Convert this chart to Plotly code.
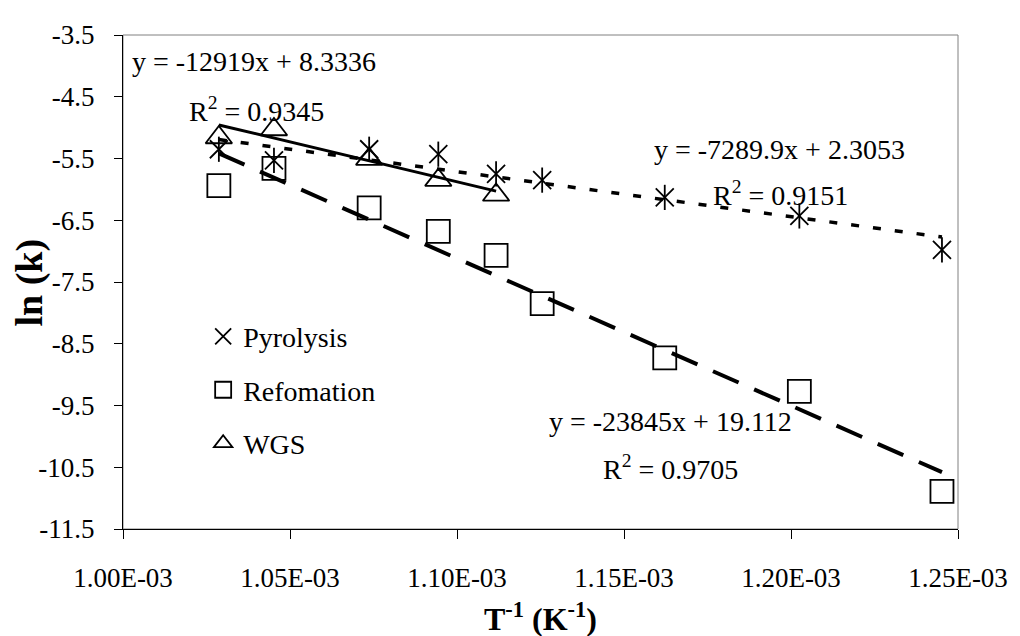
import plotly.graph_objects as go

# ---- data ----
inv_T = [1.0287e-3, 1.0452e-3, 1.0737e-3, 1.0944e-3, 1.1117e-3,
         1.1255e-3, 1.1622e-3, 1.2025e-3, 1.2452e-3]
pyrolysis = [-5.35, -5.53, -5.35, -5.43, -5.75, -5.85, -6.13, -6.43, -6.98]
refomation = [-5.94, -5.66, -6.30, -6.68, -7.07, -7.85, -8.73, -9.27, -10.89]
wgs_T = inv_T[:5]
wgs = [-5.16, -5.03, -5.51, -5.85, -6.09]

# trend-line coefficients as printed on the chart
pyro_fit = (-7289.9, 2.3053)
refo_fit = (-23845.0, 19.112)
wgs_fit = (-12919.0, 8.3336)

x_tickvals = [1.00e-3, 1.05e-3, 1.10e-3, 1.15e-3, 1.20e-3, 1.25e-3]
x_ticktext = ["1.00E-03", "1.05E-03", "1.10E-03", "1.15E-03", "1.20E-03", "1.25E-03"]
y_tickvals = [-3.5, -4.5, -5.5, -6.5, -7.5, -8.5, -9.5, -10.5, -11.5]
y_ticktext = ["-3.5", "-4.5", "-5.5", "-6.5", "-7.5", "-8.5", "-9.5", "-10.5", "-11.5"]

FONT = "Liberation Serif"
FS = 27


def fit_line(xs, coef):
    x0, x1 = min(xs), max(xs)
    return [x0, x1], [coef[0] * x0 + coef[1], coef[0] * x1 + coef[1]]


fig = go.Figure()

# trend lines
lx, ly = fit_line(inv_T, pyro_fit)
fig.add_trace(go.Scatter(x=lx, y=ly, mode="lines", showlegend=False,
                         line=dict(color="black", width=3.5, dash="8px,14px")))
lx, ly = fit_line(inv_T, refo_fit)
fig.add_trace(go.Scatter(x=lx, y=ly, mode="lines", showlegend=False,
                         line=dict(color="black", width=4, dash="28px,17px")))
lx, ly = fit_line(wgs_T, wgs_fit)
fig.add_trace(go.Scatter(x=lx, y=ly, mode="lines", showlegend=False,
                         line=dict(color="black", width=3)))

# markers
mline = dict(color="black", width=1.8)
fig.add_trace(go.Scatter(x=inv_T, y=pyrolysis, mode="markers", name="Pyrolysis",
                         legendgroup="a",
                         marker=dict(symbol="x-thin-open", size=18, color="black", line=mline)))
fig.add_trace(go.Scatter(x=inv_T, y=pyrolysis, mode="markers", showlegend=False,
                         legendgroup="a",
                         marker=dict(symbol="line-ns-open", size=18, color="black", line=mline)))
fig.add_trace(go.Scatter(x=inv_T, y=refomation, mode="markers", name="Refomation",
                         legendgroup="b",
                         marker=dict(symbol="square-open", size=23, color="black", line=mline)))
fig.add_trace(go.Scatter(x=wgs_T, y=wgs, mode="markers", name="WGS",
                         legendgroup="c",
                         marker=dict(symbol="triangle-up-open", size=23, color="black", line=mline)))

ann_font = dict(family=FONT, size=FS + 1, color="black")
annotations = [
    dict(x=1.0391e-3, y=-3.93, text="y = -12919x + 8.3336"),
    dict(x=1.0400e-3, y=-4.70, text="R<sup>2</sup> = 0.9345"),
    dict(x=1.1967e-3, y=-5.35, text="y = -7289.9x + 2.3053"),
    dict(x=1.1970e-3, y=-6.06, text="R<sup>2</sup> = 0.9151"),
    dict(x=1.1638e-3, y=-9.76, text="y = -23845x + 19.112"),
    dict(x=1.1640e-3, y=-10.50, text="R<sup>2</sup> = 0.9705"),
]
for a in annotations:
    a.update(xref="x", yref="y", showarrow=False, font=ann_font,
             xanchor="center", yanchor="middle")

# axis titles as paper-anchored annotations
annotations.append(dict(xref="paper", yref="paper", x=0.5, y=-0.178,
                        xanchor="center", yanchor="middle", showarrow=False,
                        text="<b>T<sup>-1</sup> (K<sup>-1</sup>)</b>",
                        font=dict(family=FONT, size=FS + 5, color="black")))
annotations.append(dict(xref="paper", yref="paper", x=-0.112, y=0.5,
                        xanchor="center", yanchor="middle", showarrow=False,
                        textangle=-90, text="<b>ln (k)</b>",
                        font=dict(family=FONT, size=FS + 11, color="black")))

# page body has an 8px margin, so the figure is 8px smaller than the window
fig.update_layout(
    width=1012, height=628,
    margin=dict(l=115, r=53, t=15, b=107),
    paper_bgcolor="white", plot_bgcolor="white",
    font=dict(family=FONT, size=FS, color="black"),
    annotations=annotations,
    showlegend=True,
    legend=dict(x=0.096, y=0.44, xanchor="left", yanchor="top",
                bgcolor="rgba(0,0,0,0)", borderwidth=0,
                traceorder="grouped", tracegroupgap=14,
                font=dict(family=FONT, size=FS + 1, color="black"),
                itemsizing="trace"),
    shapes=[dict(type="rect", xref="paper", yref="paper", x0=0, y0=0, x1=1, y1=1,
                 line=dict(color="#808080", width=1), layer="below")],
)

fig.update_xaxes(range=[1.00e-3, 1.25e-3], tickvals=x_tickvals, ticktext=x_ticktext,
                 showgrid=False, zeroline=False, showline=True, linecolor="black",
                 linewidth=1, ticks="outside", ticklen=9, tickcolor="black",
                 ticklabelstandoff=16,
                 tickfont=dict(family=FONT, size=FS, color="black"))
fig.update_yaxes(range=[-11.5, -3.5], tickvals=y_tickvals, ticktext=y_ticktext,
                 showgrid=False, zeroline=False, showline=True, linecolor="black",
                 linewidth=1, ticks="outside", ticklen=8, tickcolor="black",
                 ticklabelstandoff=14,
                 tickfont=dict(family=FONT, size=FS, color="black"))

fig.write_html("out.html")
